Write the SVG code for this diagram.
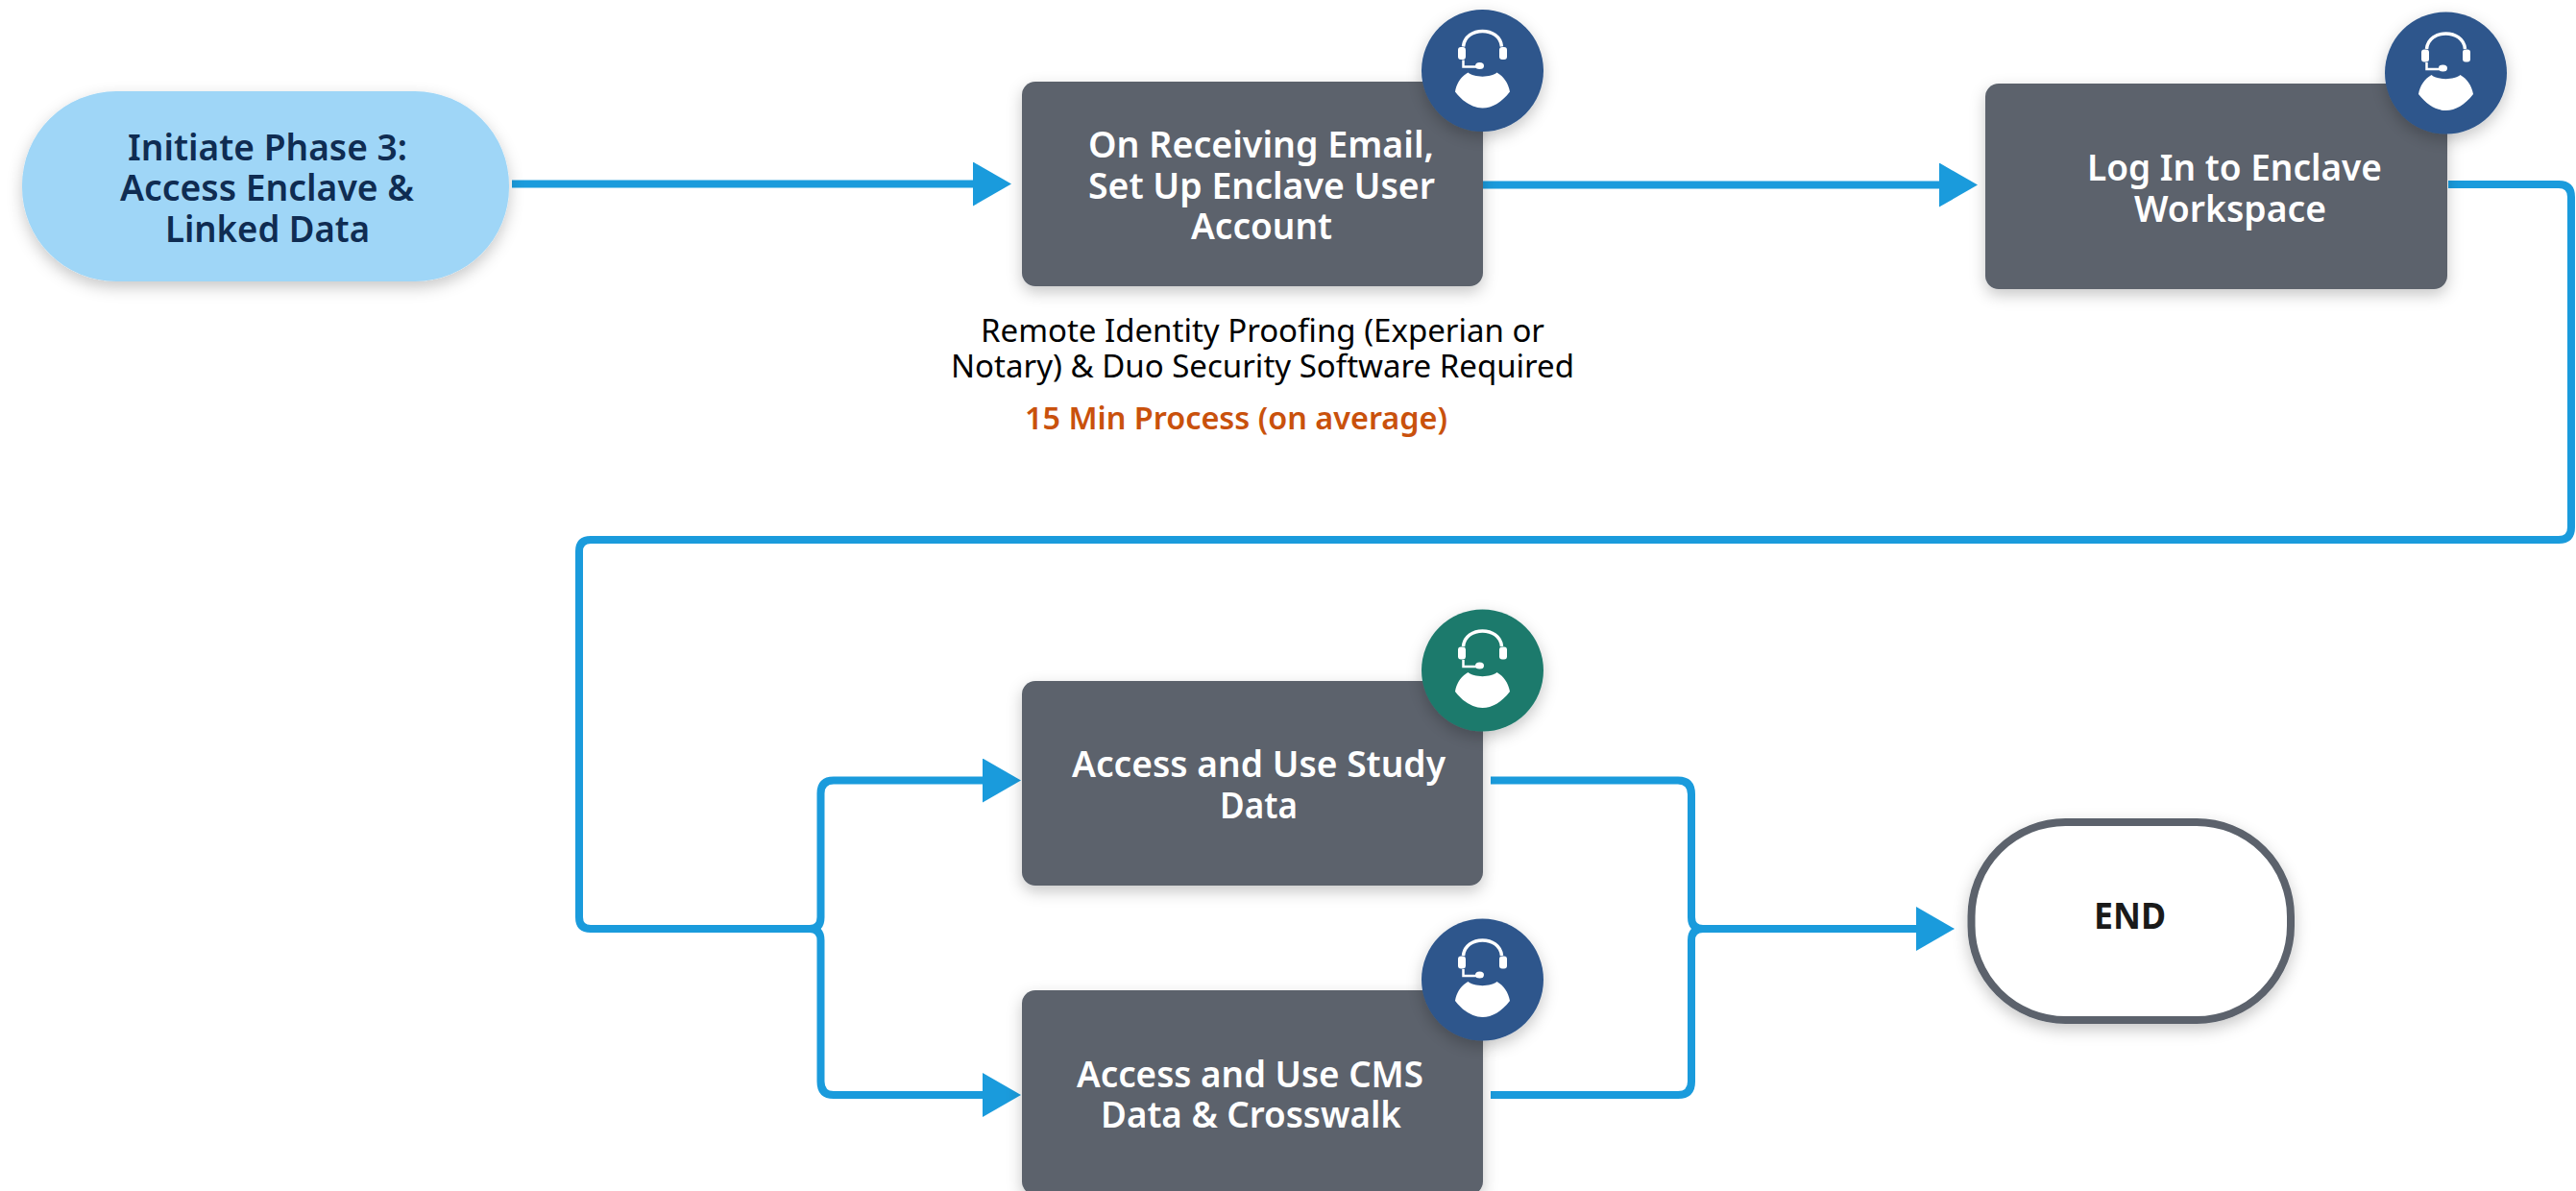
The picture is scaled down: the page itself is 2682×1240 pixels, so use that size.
<svg xmlns="http://www.w3.org/2000/svg" width="2682" height="1240" viewBox="0 0 2682 1240">
<style>
text{font-family:"Noto Sans","Open Sans",sans-serif}
.box{fill:#5b626c}
.w{fill:#fff;font-size:38px;font-weight:600}
.n{fill:#0f2c52;font-size:38px;font-weight:600}
.s{fill:#000;font-size:32px;font-weight:400}
.o{fill:#c9510c;font-size:32px;font-weight:600}
.c{fill:none;stroke:#1a9bdc;stroke-width:8}
.a{marker-end:url(#arrow)}
.ic{fill:#fff}
</style>
<defs>
<filter id="sh" x="-20%" y="-20%" width="140%" height="150%"><feDropShadow dx="0" dy="6" stdDeviation="8" flood-color="#000" flood-opacity="0.22"/></filter>
<marker id="arrow" markerUnits="userSpaceOnUse" markerWidth="40" markerHeight="46" viewBox="0 0 40 46" refX="0" refY="23" orient="auto"><path d="M0 0L40 23L0 46Z" fill="#1a9bdc"/></marker>
<g id="agent">
<path class="ic" d="M-25.500-21.500a3 3 0 0 1 3-3h2a3 3 0 0 1 3 3v7a3 3 0 0 1-3 3h-2a3 3 0 0 1-3-3zM17.500-21.500a3 3 0 0 1 3-3h2a3 3 0 0 1 3 3v7a3 3 0 0 1-3 3h-2a3 3 0 0 1-3-3z"/>
<path d="M-20-25C-18-46.500 18-46.500 20-25" fill="none" stroke="#fff" stroke-width="3.500"/>
<path d="M-20-11V-4H-5" fill="none" stroke="#fff" stroke-width="2.500"/>
<ellipse class="ic" cx="-3" cy="-5" rx="4.500" ry="3.500"/>
<path class="ic" d="M-15 2C-9 7.500 9 7.500 15 2C22 6 27 13 28.500 22C20 33 10 39 0 39C-10 39-20 33-28.500 22C-27 13-22 6-15 2Z"/>
</g>
</defs>
<rect width="2682" height="1240" fill="#fff"/>
<g id="connectors">
<path class="c a" d="M533 191.500H1013"/>
<path class="c a" d="M1543 192.500H2019"/>
<path class="c" d="M2549 192H2664Q2677 192 2677 205V549Q2677 562 2664 562H615Q603 562 603 574V955Q603 967 615 967H843"/>
<path class="c a" d="M843 967Q854.500 967 854.500 955V826Q854.500 812.500 868 812.500H1023"/>
<path class="c a" d="M843 967Q854.500 967 854.500 979V1126Q854.500 1140 868 1140H1023"/>
<path class="c" d="M1552 812.500H1747Q1761 812.500 1761 827V955Q1761 967 1773 967"/>
<path class="c" d="M1552 1140H1747Q1761 1140 1761 1126V979Q1761 967 1773 967"/>
<path class="c a" d="M1773 967H1995"/>
</g>
<g id="start"><rect x="23" y="95" width="507" height="198" rx="98" fill="#9fd6f7" filter="url(#sh)"/>
<text class="n" x="133" y="167" textLength="291" lengthAdjust="spacingAndGlyphs">Initiate Phase 3:</text>
<text class="n" x="125" y="209" textLength="306" lengthAdjust="spacingAndGlyphs">Access Enclave &amp;</text>
<text class="n" x="172" y="252" textLength="213" lengthAdjust="spacingAndGlyphs">Linked Data</text></g>
<g id="setup-account"><rect class="box" x="1064" y="85" width="480" height="213" rx="14" filter="url(#sh)"/>
<text class="w" x="1133" y="164" textLength="360" lengthAdjust="spacingAndGlyphs">On Receiving Email,</text>
<text class="w" x="1133" y="207" textLength="361" lengthAdjust="spacingAndGlyphs">Set Up Enclave User</text>
<text class="w" x="1240" y="249" textLength="147" lengthAdjust="spacingAndGlyphs">Account</text>
<circle cx="1543.500" cy="73.500" r="63.500" fill="#2d568c" filter="url(#sh)"/><use href="#agent" x="1543.500" y="73.500"/></g>
<g id="setup-note">
<text class="s" x="1021" y="356" textLength="587" lengthAdjust="spacingAndGlyphs">Remote Identity Proofing (Experian or</text>
<text class="s" x="990" y="393" textLength="649" lengthAdjust="spacingAndGlyphs">Notary) &amp; Duo Security Software Required</text>
<text class="o" x="1067" y="447" textLength="440" lengthAdjust="spacingAndGlyphs">15 Min Process (on average)</text></g>
<g id="log-in"><rect class="box" x="2067" y="87" width="481" height="214" rx="14" filter="url(#sh)"/>
<text class="w" x="2173" y="188" textLength="307" lengthAdjust="spacingAndGlyphs">Log In to Enclave</text>
<text class="w" x="2222" y="231" textLength="200" lengthAdjust="spacingAndGlyphs">Workspace</text>
<circle cx="2546.500" cy="76" r="63.500" fill="#2d568c" filter="url(#sh)"/><use href="#agent" x="2546.500" y="76"/></g>
<g id="study-data"><rect class="box" x="1064" y="709" width="480" height="213" rx="14" filter="url(#sh)"/>
<text class="w" x="1116" y="809" textLength="389" lengthAdjust="spacingAndGlyphs">Access and Use Study</text>
<text class="w" x="1270" y="852" textLength="81" lengthAdjust="spacingAndGlyphs">Data</text>
<circle cx="1543.500" cy="698" r="63.500" fill="#1f7a6c" filter="url(#sh)"/><use href="#agent" x="1543.500" y="698"/></g>
<g id="cms-data"><rect class="box" x="1064" y="1031" width="480" height="213" rx="14" filter="url(#sh)"/>
<text class="w" x="1121" y="1132" textLength="361" lengthAdjust="spacingAndGlyphs">Access and Use CMS</text>
<text class="w" x="1146" y="1174" textLength="313" lengthAdjust="spacingAndGlyphs">Data &amp; Crosswalk</text>
<circle cx="1543.500" cy="1020" r="63.500" fill="#2d568c" filter="url(#sh)"/><use href="#agent" x="1543.500" y="1020"/></g>
<g id="end"><rect x="2052.500" y="856" width="332.500" height="206" rx="98" fill="#fff" stroke="#5b626c" stroke-width="8" filter="url(#sh)"/>
<text x="2180" y="967" textLength="75" lengthAdjust="spacingAndGlyphs" font-size="38" font-weight="700" fill="#1a1a1a">END</text></g>
</svg>
